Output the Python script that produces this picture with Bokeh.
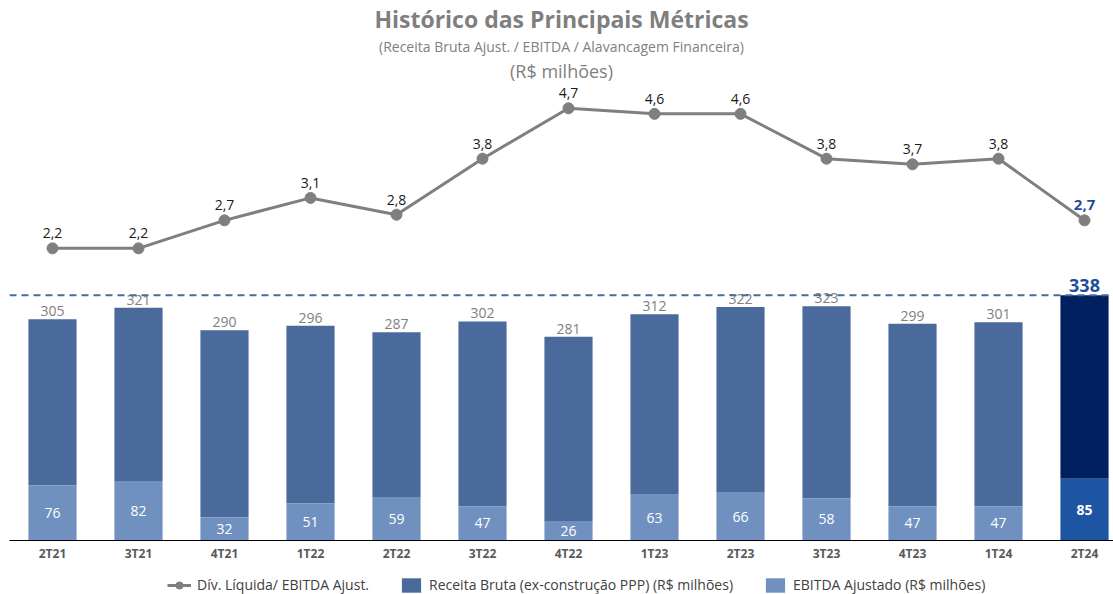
from bokeh.plotting import figure
from bokeh.models import Range1d, Span, Legend, LegendItem, Title, FixedTicker
from bokeh.layouts import column
from bokeh.core.properties import value
from bokeh.embed import file_html
from bokeh.resources import INLINE

quarters = ["2T21", "3T21", "4T21", "1T22", "2T22", "3T22", "4T22",
            "1T23", "2T23", "3T23", "4T23", "1T24", "2T24"]
receita = [305, 321, 290, 296, 287, 302, 281, 312, 322, 323, 299, 301, 338]
ebitda = [76, 82, 32, 51, 59, 47, 26, 63, 66, 58, 47, 47, 85]
alavancagem = [2.2, 2.2, 2.7, 3.1, 2.8, 3.8, 4.7, 4.6, 4.6, 3.8, 3.7, 3.8, 2.7]
legend_labels = ["Dív. Líquida/ EBITDA Ajust.",
                 "Receita Bruta (ex-construção PPP) (R$ milhões)",
                 "EBITDA Ajustado (R$ milhões)"]

FONT = "Open Sans"
GRAY = "#7f7f7f"
C_REC = "#4a6a9b"
C_EB = "#7090bf"
C_REC_LAST = "#002060"
C_EB_LAST = "#1d55a3"
C_BLUE_TXT = "#1f4e99"

xs = list(range(len(quarters)))
n = len(quarters) - 1

p = figure(width=1113, height=564, x_range=Range1d(-0.5, 12.337),
           y_range=Range1d(0, 630.1), output_backend="svg",
           toolbar_location=None, y_axis_location=None,
           min_border_left=9, min_border_right=0, min_border_top=82,
           min_border_bottom=22, outline_line_color=None)
p.extra_y_ranges = {"line": Range1d(-3.014, 5.142)}
p.grid.visible = False

# bars
p.vbar(x=xs[:n], bottom=ebitda[:n], top=receita[:n], width=0.56,
       fill_color=C_REC, line_color=None)
p.vbar(x=xs[:n], bottom=0, top=ebitda[:n], width=0.56,
       fill_color=C_EB, line_color=None)
p.vbar(x=xs[n:], bottom=ebitda[n:], top=receita[n:], width=0.56,
       fill_color=C_REC_LAST, line_color=None)
p.vbar(x=xs[n:], bottom=0, top=ebitda[n:], width=0.56,
       fill_color=C_EB_LAST, line_color=None)

# dashed reference at last value, and baseline
p.add_layout(Span(location=receita[-1], dimension="width", line_color=C_REC,
                  line_dash="7 5", line_width=2))
p.add_layout(Span(location=0, dimension="width", line_color="black",
                  line_width=1.2))

# line
p.line(xs, alavancagem, y_range_name="line", line_color=GRAY, line_width=3)
p.scatter(xs, alavancagem, y_range_name="line", size=11,
          fill_color=GRAY, line_color=GRAY)

# bar labels
p.text(x=xs[:n], y=receita[:n], text=[str(v) for v in receita[:n]],
       text_align="center", text_baseline="bottom", y_offset=-3,
       text_font=value(FONT), text_font_size="14px", text_color="#808080")
p.text(x=xs[n:], y=receita[n:], text=[str(v) for v in receita[n:]],
       text_align="center", text_baseline="bottom", y_offset=-3,
       text_font=value(FONT), text_font_size="18px", text_font_style="bold",
       text_color=C_BLUE_TXT)
p.text(x=xs[:n], y=[v / 2 for v in ebitda[:n]], text=[str(v) for v in ebitda[:n]],
       text_align="center", text_baseline="middle",
       text_font=value(FONT), text_font_size="14px", text_color="white")
p.text(x=xs[n:], y=[v / 2 for v in ebitda[n:]], text=[str(v) for v in ebitda[n:]],
       text_align="center", text_baseline="middle",
       text_font=value(FONT), text_font_size="14px", text_font_style="bold",
       text_color="white")

# line labels
lab = [f"{v:.1f}".replace(".", ",") for v in alavancagem]
p.text(x=xs[:n], y=alavancagem[:n], text=lab[:n], y_range_name="line",
       text_align="center", text_baseline="bottom", y_offset=-10,
       text_font=value(FONT), text_font_size="14px", text_color="#1a1a1a")
p.text(x=xs[n:], y=alavancagem[n:], text=lab[n:], y_range_name="line",
       text_align="center", text_baseline="bottom", y_offset=-10,
       text_font=value(FONT), text_font_size="15px", text_font_style="bold",
       text_color=C_BLUE_TXT)

# x axis
ax = p.xaxis[0]
ax.ticker = FixedTicker(ticks=xs)
ax.major_label_overrides = {i: q for i, q in enumerate(quarters)}
ax.major_tick_line_color = None
ax.minor_tick_line_color = None
ax.major_tick_out = 0
ax.major_tick_in = 0
ax.axis_line_color = "black"
ax.axis_line_width = 1
ax.major_label_text_font = FONT
ax.major_label_text_font_style = "bold"
ax.major_label_text_font_size = "12px"
ax.major_label_text_color = "#595959"
ax.major_label_standoff = 4

# titles (added innermost first)
p.add_layout(Title(text="(R$ milhões)", align="center", text_font=FONT,
                   text_font_size="18px", text_font_style="normal",
                   text_color=GRAY, standoff=2), "above")
p.add_layout(Title(text="(Receita Bruta Ajust. / EBITDA / Alavancagem Financeira)",
                   align="center", text_font=FONT, text_font_size="14px",
                   text_font_style="normal", text_color=GRAY, standoff=0), "above")
p.add_layout(Title(text="Histórico das Principais Métricas", align="center",
                   text_font=FONT, text_font_size="23px", text_font_style="bold",
                   text_color=GRAY, standoff=0), "above")

# legend strip: renderers draw the same series outside the strip's visible ranges
p2 = figure(width=1113, height=30, output_backend="svg", toolbar_location=None,
            x_axis_location=None, y_axis_location=None, outline_line_color=None,
            min_border_left=0, min_border_right=0, min_border_top=0,
            min_border_bottom=0, x_range=Range1d(-100, -99),
            y_range=Range1d(-100, -99))
p2.grid.visible = False
l1 = p2.line(xs, alavancagem, line_color=GRAY, line_width=3)
l2 = p2.scatter(xs, alavancagem, size=9, fill_color=GRAY, line_color=GRAY)
b1 = p2.vbar(x=xs, bottom=ebitda, top=receita, width=0.56,
             fill_color=C_REC, line_color=None)
b2 = p2.vbar(x=xs, bottom=0, top=ebitda, width=0.56,
             fill_color=C_EB, line_color=None)
legend = Legend(items=[
    LegendItem(label=legend_labels[0], renderers=[l1, l2]),
    LegendItem(label=legend_labels[1], renderers=[b1]),
    LegendItem(label=legend_labels[2], renderers=[b2]),
], orientation="horizontal", location=(158, 0), label_text_font=FONT,
    label_text_font_size="14px", label_text_color="#404040",
    border_line_color=None, background_fill_alpha=0, spacing=30, padding=0,
    margin=0, glyph_width=24, glyph_height=18, label_standoff=6,
    label_height=18)
p2.add_layout(legend, "center")

layout = column(p, p2, spacing=0)
open("out.html", "w").write(file_html(layout, INLINE))
